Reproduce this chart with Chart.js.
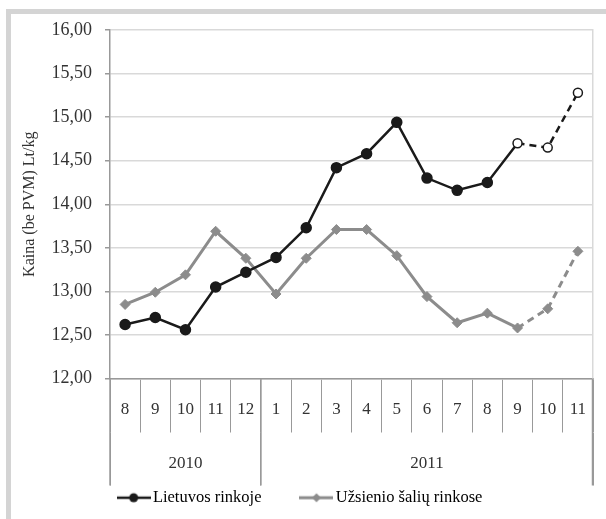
<!DOCTYPE html>
<html>
<head>
<meta charset="utf-8">
<script src="https://cdn.jsdelivr.net/npm/chart.js@4/dist/chart.umd.min.js"></script>
<style>
  html, body { margin: 0; padding: 0; background: #fff; }
  #wrap { position: relative; width: 606px; height: 519px; overflow: hidden; }
  #frame { position: absolute; left: 6px; top: 9px; right: 0; bottom: 0;
           border-left: 5px solid #d4d4d4; border-top: 5px solid #d4d4d4; }
  #chart { position: absolute; left: 0; top: 0; }
</style>
</head>
<body>
<div id="wrap">
  <div id="frame"></div>
  <canvas id="chart" width="606" height="519"></canvas>
</div>
<script>
// months shown on the axis, grouped by year
const months = ["8", "9", "10", "11", "12", "1", "2", "3", "4", "5", "6", "7", "8", "9", "10", "11"];
const years = ["2010", "2011"];
const monthsPerYear = [5, 11];

// Kaina (be PVM) Lt/kg
const lietuvos = [12.62, 12.70, 12.56, 13.05, 13.22, 13.39, 13.73, 14.42, 14.58, 14.94, 14.30, 14.16, 14.25, 14.70, 14.65, 15.28];
const uzsienio = [12.85, 12.99, 13.19, 13.69, 13.38, 12.97, 13.38, 13.71, 13.71, 13.41, 12.94, 12.64, 12.75, 12.58, 12.80, 13.46];
// from this month on the values are a forecast (dashed)
const forecastFrom = 13;

const serif = "'Liberation Serif', 'Times New Roman', serif";
const black = "#1a1a1a";
const gray = "#8c8c8c";

// first month index of each year, and the month index in the middle of each year
const yearStarts = [0];
const yearCenters = [];
monthsPerYear.forEach((n) => {
  const start = yearStarts[yearStarts.length - 1];
  yearCenters.push(start + (n - 1) / 2);
  yearStarts.push(start + n);
});

function legendIcon(color, lineW, shape) {
  const c = document.createElement("canvas");
  c.width = 34;
  c.height = 12;
  const g = c.getContext("2d");
  g.strokeStyle = color;
  g.lineWidth = lineW;
  g.beginPath();
  g.moveTo(0, 6);
  g.lineTo(34, 6);
  g.stroke();
  g.fillStyle = color;
  g.beginPath();
  if (shape === "circle") {
    g.arc(17, 6, 4.5, 0, Math.PI * 2);
  } else {
    g.moveTo(17, 1.5); g.lineTo(21.5, 6); g.lineTo(17, 10.5); g.lineTo(12.5, 6);
    g.closePath();
  }
  g.fill();
  return c;
}
const icons = [legendIcon(black, 2.5, "circle"), legendIcon(gray, 3, "diamond")];

const dashed = (ctx) => (ctx.p0DataIndex >= forecastFrom ? [7, 5] : undefined);

// year separators running through both axis rows
const yearLines = {
  id: "yearLines",
  afterDraw(chart) {
    const x = chart.scales.x;
    const c = chart.ctx;
    const last = months.length;
    c.save();
    c.strokeStyle = "#999";
    c.lineWidth = 1.5;
    yearStarts.forEach((b) => {
      let px = x.getPixelForValue(b - 0.5);
      if (b === last) px = chart.chartArea.right - 0.5;
      c.beginPath();
      c.moveTo(px, x.top);
      c.lineTo(px, x.top + 107);
      c.stroke();
    });
    c.restore();
  },
};

new Chart(document.getElementById("chart"), {
  type: "line",
  plugins: [yearLines],
  data: {
    labels: months,
    datasets: [
      {
        label: "Lietuvos rinkoje",
        data: lietuvos,
        borderColor: black,
        borderWidth: 2.5,
        pointStyle: "circle",
        pointRadius: (ctx) => (ctx.dataIndex >= forecastFrom ? 4.5 : 5),
        pointBorderWidth: 1.5,
        pointBorderColor: black,
        pointBackgroundColor: (ctx) => (ctx.dataIndex >= forecastFrom ? "#fff" : black),
        tension: 0,
        segment: { borderDash: dashed },
      },
      {
        label: "Užsienio šalių rinkose",
        data: uzsienio,
        borderColor: gray,
        borderWidth: 3,
        pointStyle: "rectRot",
        pointRadius: 5,
        pointBorderWidth: 1,
        pointBorderColor: gray,
        pointBackgroundColor: gray,
        tension: 0,
        segment: { borderDash: dashed },
      },
    ],
  },
  options: {
    responsive: false,
    animation: false,
    layout: { padding: { left: 12, top: 30, right: 13, bottom: 3 } },
    plugins: {
      tooltip: { enabled: false },
      legend: {
        position: "bottom",
        labels: {
          usePointStyle: true,
          pointStyleWidth: 22,
          padding: 44,
          color: "#222",
          font: { family: serif, size: 16.5 },
          generateLabels: (chart) =>
            chart.data.datasets.map((ds, i) => ({
              text: ds.label,
              pointStyle: icons[i],
              fillStyle: "transparent",
              strokeStyle: "transparent",
              lineWidth: 0,
              datasetIndex: i,
            })),
        },
      },
    },
    scales: {
      x: {
        type: "category",
        position: "bottom",
        offset: true,
        weight: 0,
        afterFit: (s) => { s.height = 54; },
        grid: { offset: true, drawOnChartArea: false, drawTicks: true, tickLength: 54, color: "#999", lineWidth: 1 },
        border: { color: "#999", width: 1.5 },
        ticks: { autoSkip: false, maxRotation: 0, minRotation: 0, padding: -33, color: "#333", font: { family: serif, size: 17 } },
      },
      // second row: years, separated only at year boundaries
      x2: {
        type: "category",
        labels: months,
        position: "bottom",
        offset: true,
        weight: 1,
        afterFit: (s) => { s.height = 13; },
        grid: {
          offset: true,
          drawOnChartArea: false,
          drawTicks: true,
          tickLength: 53,
          color: (ctx) => (ctx.type !== "tick" || yearStarts.includes(ctx.index) ? "#999" : "rgba(0,0,0,0)"),
          lineWidth: 1,
        },
        border: { display: false },
        ticks: {
          autoSkip: false,
          mirror: true,
          maxRotation: 0,
          minRotation: 0,
          padding: -41,
          color: "#333",
          font: { family: serif, size: 17 },
          callback: (v, i) => {
            const k = yearCenters.indexOf(i);
            return k >= 0 ? years[k] : "";
          },
        },
      },
      y: {
        min: 12,
        max: 16,
        afterFit: (s) => { s.width = 98; },
        ticks: {
          stepSize: 0.5,
          padding: 13,
          color: "#333",
          font: { family: serif, size: 18 },
          callback: (v) => v.toFixed(2).replace(".", ","),
        },
        grid: { color: "#d9d9d9", lineWidth: 1.5, drawTicks: true, tickLength: 5, tickColor: "#999" },
        border: { color: "#999", width: 1.5 },
        title: {
          display: true,
          text: "Kaina (be PVM) Lt/kg",
          color: "#333",
          font: { family: serif, size: 16 },
          padding: { top: 8, bottom: 0 },
        },
      },
      y2: {
        position: "right",
        min: 12,
        max: 16,
        afterFit: (s) => { s.width = 0; },
        ticks: { display: false },
        grid: { display: false },
        border: { color: "#d9d9d9", width: 1.5 },
      },
    },
  },
});
</script>
</body>
</html>
